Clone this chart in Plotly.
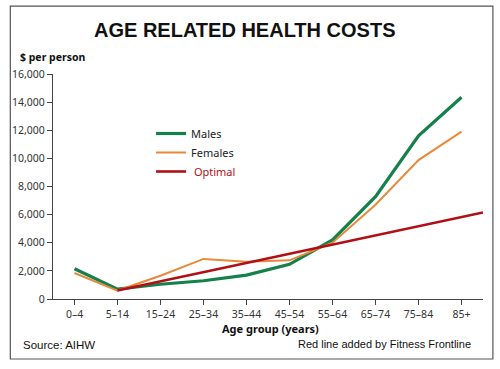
import plotly.graph_objects as go

categories = ["0–4", "5–14", "15–24", "25–34", "35–44", "45–54", "55–64", "65–74", "75–84", "85+"]
males = [2150, 700, 1050, 1300, 1700, 2470, 4200, 7280, 11600, 14350]
females = [1850, 600, 1650, 2850, 2650, 2750, 4000, 6700, 9880, 11900]
optimal_x = [1, 9.5]
optimal_y = [600, 6150]
y_ticks = list(range(0, 16001, 2000))

xi = list(range(len(categories)))

fig = go.Figure()
fig.add_trace(go.Scatter(x=xi, y=males, mode="lines", name="Males",
                         line=dict(color="#14804a", width=3.2)))
fig.add_trace(go.Scatter(x=xi, y=females, mode="lines", name="Females",
                         line=dict(color="#e8893a", width=2)))
fig.add_trace(go.Scatter(x=optimal_x, y=optimal_y, mode="lines",
                         name="<span style='color:#b10f16'> Optimal</span>",
                         line=dict(color="#b10f16", width=2.6)))

tick_font = dict(family="Noto Sans, Open Sans, sans-serif", size=10.5, color="#333")

fig.update_layout(
    width=500, height=369,
    margin=dict(l=50, r=17, t=74, b=70),
    paper_bgcolor="white", plot_bgcolor="white",
    showlegend=True,
    legend=dict(x=0.228, y=0.80, xanchor="left", yanchor="top",
                bgcolor="rgba(0,0,0,0)", itemwidth=30,
                font=dict(family="Noto Sans, Open Sans, sans-serif", size=11, color="#222"),
                tracegroupgap=4),
    xaxis=dict(range=[-0.5, 9.5], tickmode="array", tickvals=xi, ticktext=categories,
               showgrid=False, zeroline=False, showline=True, linecolor="#444", linewidth=1.2,
               ticks="outside", ticklen=5, tickcolor="#444", tickfont=tick_font),
    yaxis=dict(range=[0, 16000], tickmode="array", tickvals=y_ticks,
               ticktext=[f"{v:,}" for v in y_ticks],
               showgrid=False, zeroline=False, showline=True, linecolor="#444", linewidth=1.2,
               ticks="outside", ticklen=5, tickcolor="#444", tickfont=tick_font),
)

# outer frame
fig.add_shape(type="rect", xref="paper", yref="paper",
              x0=-0.0993, x1=1.023, y0=-0.2667, y1=1.302,
              line=dict(color="#555", width=1.2), fillcolor="rgba(0,0,0,0)")

anns = [
    dict(text="<b>AGE RELATED HEALTH COSTS</b>", x=0.445, y=1.195, xanchor="center", yanchor="middle",
         font=dict(family="Liberation Sans, Arial, sans-serif", size=20, color="#111")),
    dict(text="<b>$ per person</b>", x=-0.081, y=1.075, xanchor="left", yanchor="middle",
         font=dict(family="Noto Sans, Open Sans, sans-serif", size=10.5, color="#111")),
    dict(text="<b>Age group (years)</b>", x=0.505, y=-0.13, xanchor="center", yanchor="middle",
         font=dict(family="Noto Sans, Open Sans, sans-serif", size=11, color="#111")),
    dict(text="Source: AIHW", x=-0.074, y=-0.205, xanchor="left", yanchor="middle",
         font=dict(family="Liberation Sans, Arial, sans-serif", size=11.5, color="#111")),
    dict(text="Red line added by Fitness Frontline", x=0.977, y=-0.20, xanchor="right", yanchor="middle",
         font=dict(family="Liberation Sans, Arial, sans-serif", size=11, color="#111")),
]
for a in anns:
    fig.add_annotation(xref="paper", yref="paper", showarrow=False, **a)

fig.write_html("out.html", config={"displayModeBar": False},
               post_script="document.body.style.margin='0';document.body.style.overflow='hidden';")
